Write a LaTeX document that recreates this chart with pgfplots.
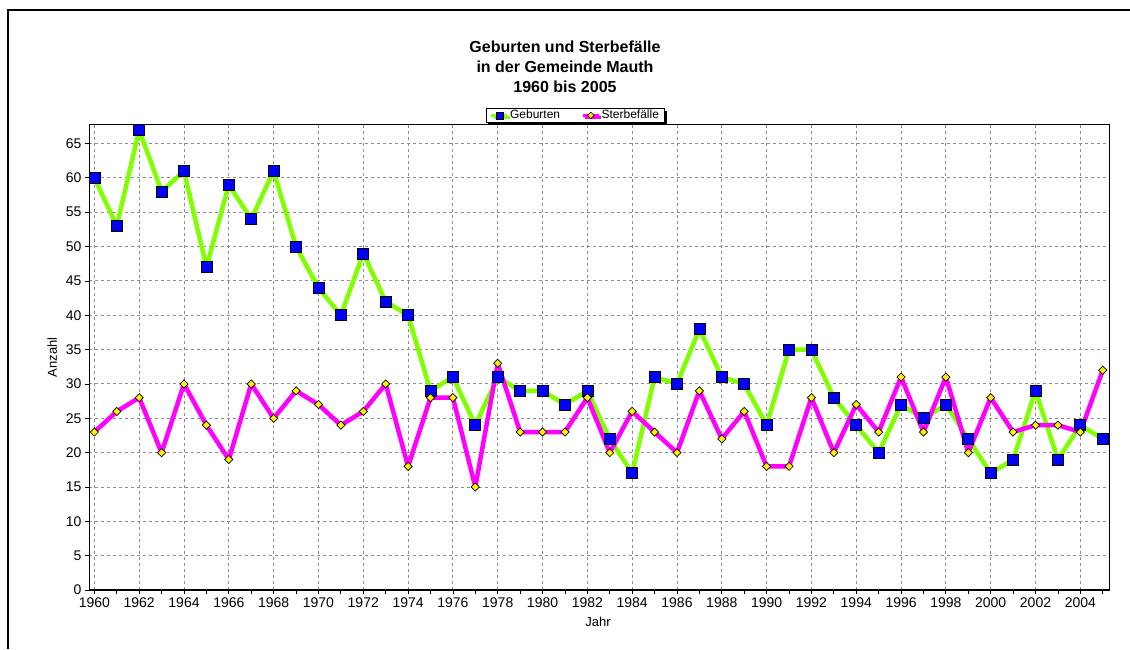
\documentclass[border=0pt]{standalone}
\usepackage{pgfplots}
\pgfplotsset{compat=1.18}
\usepackage{fontspec}
\setmainfont{Liberation Sans}
\usetikzlibrary{shadows}
\definecolor{gebgreen}{RGB}{128,255,0}
\definecolor{stermag}{RGB}{255,0,255}
\definecolor{gridgray}{RGB}{140,140,140}
\begin{document}
\begin{tikzpicture}
\useasboundingbox (0pt,0pt) rectangle (1130pt,649pt);
\draw[line width=1.2pt] (8pt,0pt) -- (8pt,639pt) -- (1130pt,639pt);
\node[font=\bfseries\fontsize{16}{16}\selectfont] at (565pt,602pt) {Geburten und Sterbefälle};
\node[font=\bfseries\fontsize{16}{16}\selectfont] at (565pt,582pt) {in der Gemeinde Mauth};
\node[font=\bfseries\fontsize{16}{16}\selectfont] at (565pt,562pt) {1960 bis 2005};
\begin{axis}[
  at={(89pt,59pt)}, anchor=south west,
  scale only axis, width=1020pt, height=465pt,
  xmin=1959.76, xmax=2005.28, ymin=0, ymax=67.7,
  xtick={1960,1962,...,2004}, minor xtick={1961,1963,...,2005},
  ytick={0,5,...,65},
  /pgf/number format/set thousands separator={},
  /pgf/number format/assume math mode=true,
  tick label style={font=\fontsize{14}{14}\selectfont},
  grid=major,
  major grid style={gridgray, line width=0.9pt, dash pattern=on 3pt off 3pt},
  tick align=outside, xtick pos=lower, ytick pos=left,
  major tick length=4pt, minor tick length=4pt,
  tick style={black, line width=0.8pt},
  axis line style={line width=1pt},
  xlabel={Jahr}, ylabel={Anzahl},
  label style={font=\fontsize{13}{13}\selectfont},
  xlabel style={at={(axis description cs:0.499,-0.069)}, anchor=center},
  ylabel style={at={(axis description cs:-0.036,0.5)}, anchor=center, rotate=0},
  legend columns=2,
  legend style={at={(axis description cs:0.4765,1)}, anchor=south, yshift=2pt,
    draw=black, line width=0.8pt, fill=white, inner xsep=4pt, inner ysep=1pt,
    font=\fontsize{12}{12}\selectfont,
    nodes={inner sep=1.2pt},
    /tikz/every even column/.append style={column sep=20pt},
    drop shadow={shadow xshift=2.5pt, shadow yshift=-2.5pt, fill=black, opacity=1}},
  legend image code/.code={\draw[mark repeat=2,mark phase=2,#1] plot coordinates {(0pt,0pt) (8pt,0pt) (16pt,0pt)};},
]
\addlegendimage{gebgreen, line width=3pt, mark=square*, mark size=3.5pt,
  mark options={fill=blue, draw=black, line width=0.5pt, solid}}
\addlegendentry{Geburten}
\addlegendimage{stermag, line width=3pt, mark=square*, mark size=2.3pt,
  mark options={fill=yellow, draw=black, line width=0.5pt, rotate=45, solid}}
\addlegendentry{Sterbefälle}
\addplot[forget plot, gebgreen, line width=4.5pt, line join=round, mark=square*, mark size=5.5pt,
  mark options={fill=blue, draw=black, line width=0.7pt, solid, line join=miter}] coordinates {
(1960,60) (1961,53) (1962,67) (1963,58) (1964,61) (1965,47) (1966,59) (1967,54)
(1968,61) (1969,50) (1970,44) (1971,40) (1972,49) (1973,42) (1974,40) (1975,29)
(1976,31) (1977,24) (1978,31) (1979,29) (1980,29) (1981,27) (1982,29) (1983,22)
(1984,17) (1985,31) (1986,30) (1987,38) (1988,31) (1989,30) (1990,24) (1991,35)
(1992,35) (1993,28) (1994,24) (1995,20) (1996,27) (1997,25) (1998,27) (1999,22)
(2000,17) (2001,19) (2002,29) (2003,19) (2004,24) (2005,22)};
\addplot[forget plot, stermag, line width=4.5pt, line join=round, mark=square*, mark size=2.9pt,
  mark options={fill=yellow, draw=black, line width=0.7pt, rotate=45, solid, line join=miter}] coordinates {
(1960,23) (1961,26) (1962,28) (1963,20) (1964,30) (1965,24) (1966,19) (1967,30)
(1968,25) (1969,29) (1970,27) (1971,24) (1972,26) (1973,30) (1974,18) (1975,28)
(1976,28) (1977,15) (1978,33) (1979,23) (1980,23) (1981,23) (1982,28) (1983,20)
(1984,26) (1985,23) (1986,20) (1987,29) (1988,22) (1989,26) (1990,18) (1991,18)
(1992,28) (1993,20) (1994,27) (1995,23) (1996,31) (1997,23) (1998,31) (1999,20)
(2000,28) (2001,23) (2002,24) (2003,24) (2004,23) (2005,32)};
\draw[black, line width=2pt] (rel axis cs:0,1) -- (rel axis cs:0,0) -- (rel axis cs:1,0);
\end{axis}
\end{tikzpicture}
\end{document}
